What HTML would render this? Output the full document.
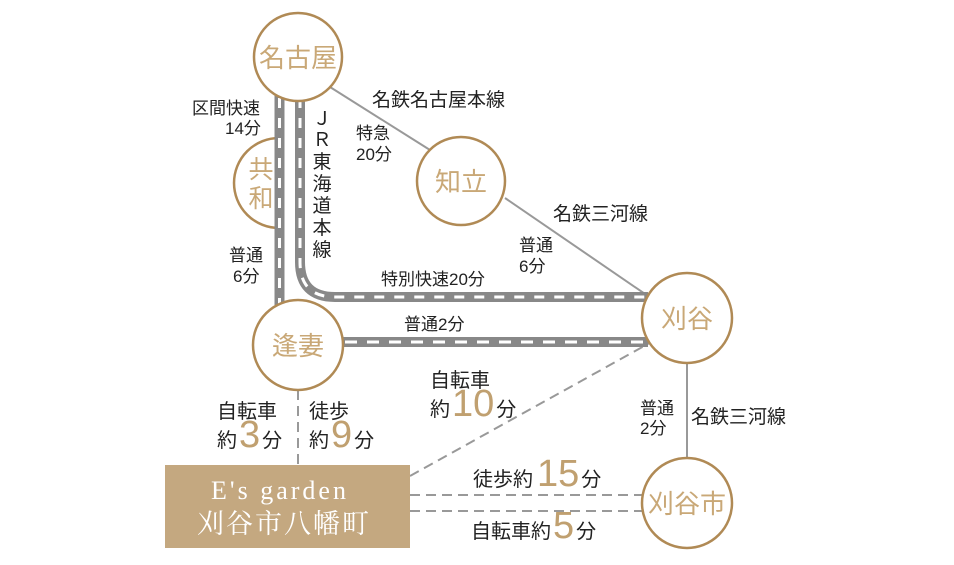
<!DOCTYPE html>
<html><head><meta charset="utf-8"><style>
html,body{margin:0;padding:0;background:#fff;}
svg{display:block;font-family:"Liberation Sans","Noto Sans CJK JP",sans-serif;}
</style></head><body>
<svg width="954" height="565" viewBox="0 0 954 565" xmlns="http://www.w3.org/2000/svg">
<rect width="954" height="565" fill="#fff"/>
<g stroke="#999" stroke-width="2">
<line x1="330" y1="87" x2="430" y2="150"/>
<line x1="505" y1="198" x2="648" y2="296"/>
<line x1="687" y1="363" x2="687" y2="458"/>
</g>
<g stroke="#999" stroke-width="2" stroke-dasharray="10,6" fill="none">
<line x1="298" y1="390" x2="298" y2="465"/>
<line x1="410" y1="476" x2="655" y2="340"/>
<line x1="410" y1="495" x2="643" y2="495"/>
<line x1="410" y1="511" x2="643" y2="511"/>
</g>
<path d="M279,138 A45,45 0 0 0 279,228" fill="#fff" stroke="#b08a55" stroke-width="2.5"/>
<g fill="none">
<line x1="279.5" y1="95" x2="279.5" y2="305" stroke="#888" stroke-width="10"/>
<line x1="279.5" y1="98" x2="279.5" y2="305" stroke="#fff" stroke-width="3" stroke-dasharray="10,10"/>
<path d="M300,95 L300,262 Q300,297 335,297 L648,297" stroke="#888" stroke-width="10"/>
<path d="M300,98 L300,262 Q300,297 335,297 L648,297" stroke="#fff" stroke-width="3" stroke-dasharray="10,10"/>
<line x1="340" y1="342" x2="648" y2="342" stroke="#888" stroke-width="10"/>
<line x1="345" y1="342" x2="648" y2="342" stroke="#fff" stroke-width="3" stroke-dasharray="12,10"/>
</g>
<g fill="#fff" stroke="#b08a55" stroke-width="2.5">
<circle cx="298" cy="57" r="44"/>
<circle cx="461" cy="181" r="44"/>
<circle cx="687" cy="318" r="45"/>
<circle cx="298" cy="345" r="45"/>
<circle cx="687" cy="503" r="45"/>
</g>
<g fill="#c9a877" font-size="26" text-anchor="middle">
<text x="298" y="67">名古屋</text>
<text x="461" y="191">知立</text>
<text x="687" y="328">刈谷</text>
<text x="298" y="355">逢妻</text>
<text x="687" y="513">刈谷市</text>
<text x="261" y="178" font-size="25">共</text>
<text x="261" y="207" font-size="25">和</text>
</g>
<rect x="165" y="465" width="245" height="83" fill="#c4a880"/>
<g fill="#fff" text-anchor="middle" font-family="'Liberation Serif','Noto Serif CJK SC',serif">
<text x="280" y="499" font-size="26" letter-spacing="3">E's garden</text>
<text x="284" y="533" font-size="27" letter-spacing="2">刈谷市八幡町</text>
</g>
<g fill="#222" font-size="17">
<text x="192" y="114">区間快速</text>
<text x="225" y="134">14分</text>
<text x="356" y="139">特急</text>
<text x="356" y="160">20分</text>
<text x="519" y="251">普通</text>
<text x="519" y="272">6分</text>
<text x="229" y="261">普通</text>
<text x="233" y="282">6分</text>
<text x="381" y="285">特別快速20分</text>
<text x="404" y="330">普通2分</text>
<text x="640" y="414">普通</text>
<text x="640" y="434">2分</text>
</g>
<g fill="#222" font-size="19">
<text x="372" y="106">名鉄名古屋本線</text>
<text x="553" y="220">名鉄三河線</text>
<text x="691" y="423">名鉄三河線</text>
</g>
<g fill="#222" font-size="19" text-anchor="middle">
<text x="322" y="125">Ｊ</text>
<text x="322" y="146">Ｒ</text>
<text x="322" y="168">東</text>
<text x="322" y="190">海</text>
<text x="322" y="212">道</text>
<text x="322" y="234">本</text>
<text x="322" y="256">線</text>
</g>
<g fill="#222" font-size="20">
<text x="217" y="418">自転車</text>
<text x="217" y="447">約<tspan font-size="38" fill="#c0a070" dx="2">3</tspan><tspan dx="2">分</tspan></text>
<text x="309" y="418">徒歩</text>
<text x="309" y="447">約<tspan font-size="38" fill="#c0a070" dx="2">9</tspan><tspan dx="2">分</tspan></text>
<text x="430" y="387">自転車</text>
<text x="430" y="416">約<tspan font-size="38" fill="#c0a070" dx="2">10</tspan><tspan dx="2">分</tspan></text>
<text x="473" y="486">徒歩約<tspan font-size="38" fill="#c0a070" dx="4">15</tspan><tspan dx="2">分</tspan></text>
<text x="471" y="538">自転車約<tspan font-size="38" fill="#c0a070" dx="2">5</tspan><tspan dx="2">分</tspan></text>
</g>
</svg>
</body></html>
